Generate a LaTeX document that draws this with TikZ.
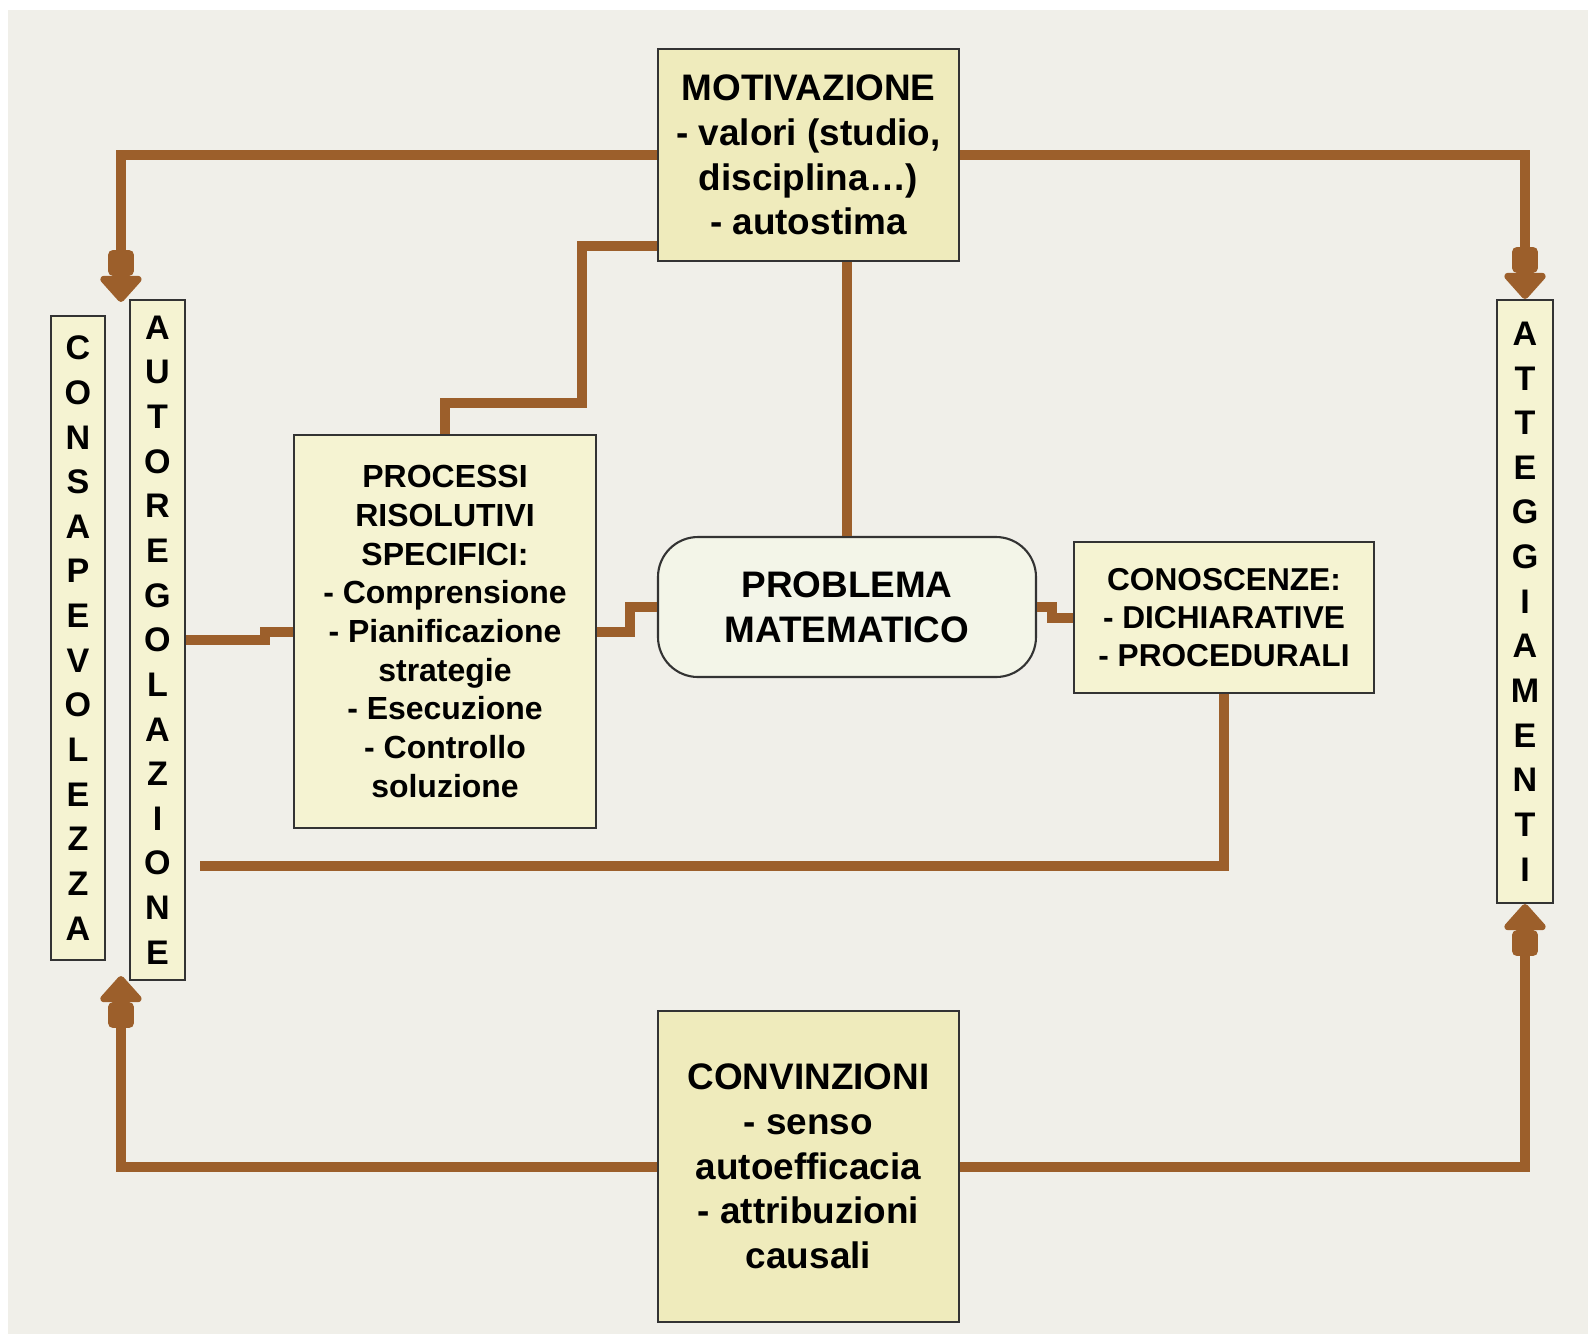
\documentclass[tikz,border=0pt]{standalone}
\usepackage{fontspec}
\setmainfont{Liberation Sans}
\usetikzlibrary{arrows.meta,calc}
\definecolor{bgcol}{HTML}{F0EFE9}
\definecolor{conn}{HTML}{9C5F2B}
\definecolor{boxA}{HTML}{EFEBBC}
\definecolor{boxB}{HTML}{F5F3D2}
\definecolor{boxC}{HTML}{F3F5E8}
\definecolor{edge}{HTML}{333333}
\tikzset{
  box/.style={draw=edge, line width=0.6pt, inner sep=0pt, align=center,
    font=\fontsize{10.5}{12.7}\selectfont\bfseries},
  bigbox/.style={box, fill=boxA, minimum width=30.1mm},
  smallbox/.style={box, fill=boxB, font=\fontsize{9.1}{11}\selectfont\bfseries},
  vbox/.style={box, fill=boxB, font=\fontsize{9.7}{12.7}\selectfont\bfseries},
  wire/.style={draw=conn, line width=1mm},
  arr/.style={wire, -{Rectangle[length=2.6mm,width=2.6mm,round] Triangle[length=2.8mm,width=4.8mm,round]}}
}
\begin{document}
\begin{tikzpicture}[x=0.1mm,y=-0.1mm]
\fill[white] (0,0) rectangle (1588,1334);
\fill[bgcol] (8,10) rectangle (1588,1334);
\useasboundingbox (0,0) rectangle (1588,1334);

\node[bigbox, minimum height=21.2mm] (mot) at (808.5,155)
  {MOTIVAZIONE\\- valori (studio,\\disciplina…)\\- autostima};
\node[bigbox, minimum height=31.1mm] (conv) at (808.5,1166.5)
  {CONVINZIONI\\- senso\\autoefficacia\\- attribuzioni\\causali};
\node[vbox, minimum width=5.4mm, minimum height=64.4mm] (cons) at (78,638)
  {C\\O\\N\\S\\A\\P\\E\\V\\O\\L\\E\\Z\\Z\\A};
\node[vbox, minimum width=5.5mm, minimum height=68mm] (auto) at (157.5,640)
  {A\\U\\T\\O\\R\\E\\G\\O\\L\\A\\Z\\I\\O\\N\\E};
\node[vbox, minimum width=5.6mm, minimum height=60.3mm] (att) at (1525,601.5)
  {A\\T\\T\\E\\G\\G\\I\\A\\M\\E\\N\\T\\I};
\node[smallbox, minimum width=30.2mm, minimum height=39.3mm] (proc) at (445,631.5)
  {PROCESSI\\RISOLUTIVI\\SPECIFICI:\\- Comprensione\\- Pianificazione\\strategie\\- Esecuzione\\- Controllo\\soluzione};
\node[box, fill=boxC, rounded corners=4mm, minimum width=37.8mm, minimum height=14mm] (prob) at (847,607)
  {PROBLEMA\\MATEMATICO};
\node[smallbox, minimum width=30mm, minimum height=15.1mm, font=\fontsize{9}{10.8}\selectfont\bfseries] (cono) at (1224,617.5)
  {CONOSCENZE:\\- DICHIARATIVE\\- PROCEDURALI};

\coordinate (freeend) at (200,866);

\draw[arr] (mot.west) -| ([xshift=-0.8mm,yshift=-0.3mm]auto.north west);
\draw[arr] (mot.east) -| (att.north);
\draw[arr] (conv.west) -| ([xshift=-0.8mm,yshift=0.5mm]auto.south west);
\draw[arr] (conv.east) -| (att.south);

\draw[wire] ([yshift=1.6mm]mot.south west) -| (582,403) -| (proc.north);
\draw[wire] (prob.north |- mot.south) -- (prob.north);
\draw[wire] (auto.east) -- (265,640) |- (proc.west);
\draw[wire] (proc.east) -- (630,631.5) |- (prob.west);
\draw[wire] (prob.east) -- (1052,607) |- (cono.west);
\draw[wire] (cono.south) |- (freeend);
\end{tikzpicture}
\end{document}
